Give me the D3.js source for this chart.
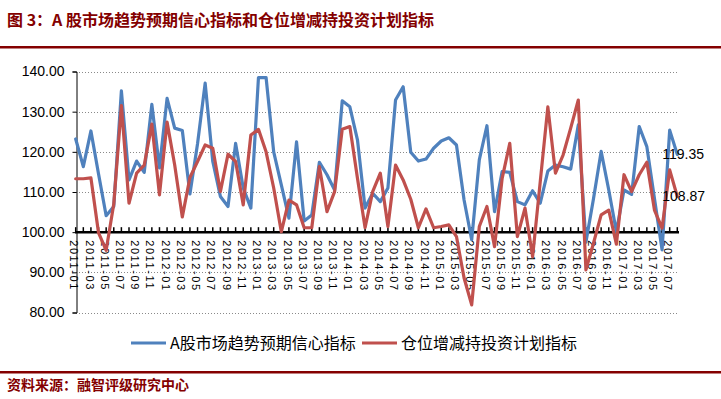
<!DOCTYPE html>
<html>
<head>
<meta charset="utf-8">
<script src="https://cdn.jsdelivr.net/npm/d3@7"></script>
<style>
    body { margin: 0; background: #fff; }
    text { font-family: "Liberation Sans", Arial, sans-serif; }
    .cjk { font-family: "Noto Sans CJK SC", "Liberation Sans", sans-serif; }
</style>
</head>
<body>
<script>
// month labels, 2011-01 .. 2017-08
var months = [];
for (var yr = 2011; yr <= 2017; yr++) {
    for (var m = 1; m <= 12; m++) {
        if (yr == 2017 && m > 8) break;
        months.push(yr + "-" + (m < 10 ? "0" + m : m));
    }
}

// A股市场趋势预期信心指标
var confidence = [123.2, 116.3, 125.2, 114.5, 104.1, 106.4, 135.2, 113.0, 117.7, 114.9,
    131.8, 116.0, 133.3, 125.9, 125.3, 109.5, 122.0, 137.1, 117.6, 108.9,
    106.4, 122.1, 111.0, 106.0, 138.5, 138.5, 120.0, 111.8, 103.5, 122.5,
    102.8, 104.3, 117.4, 114.3, 110.5, 132.7, 131.2, 123.0, 106.0, 109.7,
    107.6, 111.0, 132.9, 136.2, 119.9, 117.7, 118.2, 120.9, 122.7, 123.5,
    121.7, 108.0, 98.1, 118.0, 126.5, 105.1, 115.1, 114.9, 107.6, 106.8,
    110.3, 107.2, 115.2, 116.7, 116.3, 115.7, 126.7, 97.5, 108.4, 120.1,
    110.5, 100.1, 110.5, 109.4, 126.3, 121.3, 108.4, 95.6, 125.4, 119.35];

// 仓位增减持投资计划指标
var position = [113.3, 113.3, 113.5, 99.8, 95.5, 107.0, 131.5, 107.2, 114.7, 116.7,
    126.9, 109.3, 127.4, 116.7, 103.8, 113.6, 117.6, 121.7, 120.9, 110.1,
    119.4, 117.6, 106.8, 124.2, 125.6, 120.0, 111.0, 100.1, 108.0, 106.8,
    101.1, 101.1, 116.3, 105.1, 110.1, 125.6, 126.3, 113.4, 101.1, 110.1,
    114.7, 101.4, 116.7, 113.0, 108.2, 101.1, 105.8, 101.1, 101.4, 101.8,
    98.9, 88.6, 81.9, 101.4, 106.4, 96.4, 113.4, 122.1, 98.9, 106.0,
    93.9, 112.5, 131.2, 114.7, 119.2, 125.9, 132.9, 90.6, 97.3, 104.3,
    105.5, 97.0, 114.3, 110.1, 114.3, 117.4, 105.5, 101.0, 115.5, 108.87];

var yTicks = [80, 90, 100, 110, 120, 130, 140];

var seriesNames = ["A股市场趋势预期信心指标", "仓位增减持投资计划指标"];
var seriesColors = ["#4F81BD", "#C0504D"];

var W = 721, H = 399;
var darkRed = "#840000";

var svg = d3.select("body").append("svg")
    .attr("width", W)
    .attr("height", H);

// header + footer
svg.append("text")
    .attr("class", "cjk")
    .attr("x", 7)
    .attr("y", 26)
    .style("font-size", "16px")
    .style("font-weight", "bold")
    .style("fill", darkRed)
    .text("图 3：A 股市场趋势预期信心指标和仓位增减持投资计划指标");

svg.append("rect").attr("x", 0).attr("y", 46).attr("width", W).attr("height", 2.5).style("fill", darkRed);
svg.append("rect").attr("x", 0).attr("y", 371).attr("width", W).attr("height", 2.5).style("fill", darkRed);

svg.append("text")
    .attr("class", "cjk")
    .attr("x", 7)
    .attr("y", 390)
    .style("font-size", "14px")
    .style("font-weight", "bold")
    .style("fill", darkRed)
    .text("资料来源：融智评级研究中心");

var x = d3.scalePoint()
    .domain(months)
    .range([75.7, 677.3]);

var y = d3.scaleLinear()
    .domain([80, 140])
    .range([312.5, 71.5]);

// dotted grid
svg.append("g").selectAll("line")
    .data(yTicks.filter(function(d) { return d != 100; }))
    .enter().append("line")
    .attr("x1", 76).attr("x2", 678)
    .attr("y1", function(d) { return Math.round(y(d)) + 0.5; })
    .attr("y2", function(d) { return Math.round(y(d)) + 0.5; })
    .attr("stroke", "#8a8a8a")
    .attr("stroke-dasharray", "1,2");

// y axis
var yAxis = d3.axisLeft(y)
    .tickValues(yTicks)
    .tickSize(4)
    .tickPadding(8)
    .tickFormat(d3.format(".2f"));

var gy = svg.append("g")
    .attr("transform", "translate(76.5,0)")
    .call(yAxis);
gy.select(".domain").attr("stroke", "#000");
gy.selectAll(".tick text")
    .style("font-size", "14px")
    .style("fill", "#000")
    .style("font-family", "'Liberation Sans', Arial, sans-serif");

// x axis sits on 100
var gx = svg.append("g")
    .attr("transform", "translate(0," + y(100) + ")");

gx.selectAll("line.tk")
    .data(months)
    .enter().append("line")
    .attr("class", "tk")
    .attr("x1", function(d) { return x(d); })
    .attr("x2", function(d) { return x(d); })
    .attr("y1", 0).attr("y2", -5)
    .attr("stroke", "#000")
    .attr("stroke-width", 1.5);

gx.append("line")
    .attr("x1", 75).attr("x2", 679)
    .attr("y1", 0).attr("y2", 0)
    .attr("stroke", "#000")
    .attr("stroke-width", 2.5);

gx.selectAll("text")
    .data(months.filter(function(d, i) { return i % 2 == 0; }))
    .enter().append("text")
    .attr("transform", function(d) { return "translate(" + (x(d) - 1.5) + ",8) rotate(90)"; })
    .attr("dy", "0.35em")
    .style("font-size", "11px")
    .style("letter-spacing", "1.6px")
    .style("fill", "#000")
    .text(function(d) { return d; });

// lines
var line = d3.line()
    .x(function(d, i) { return x(months[i]); })
    .y(function(d) { return y(d); });

[confidence, position].forEach(function(s, k) {
    svg.append("path")
        .datum(s)
        .attr("d", line)
        .attr("fill", "none")
        .attr("stroke", seriesColors[k])
        .attr("stroke-width", 3.2)
        .attr("stroke-linejoin", "round")
        .attr("stroke-linecap", "round");
});

// end labels
[confidence, position].forEach(function(s) {
    var last = s.length - 1;
    svg.append("text")
        .attr("x", x(months[last]) - 15)
        .attr("y", y(s[last]))
        .attr("dy", "0.35em")
        .style("font-size", "14px")
        .style("fill", "#000")
        .text(d3.format(".2f")(s[last]));
});

// legend
var legend = svg.append("g")
    .attr("transform", "translate(0,343)");

var legendX = [131, 362];
seriesNames.forEach(function(name, k) {
    legend.append("line")
        .attr("x1", legendX[k]).attr("x2", legendX[k] + 35)
        .attr("y1", 0).attr("y2", 0)
        .attr("stroke", seriesColors[k])
        .attr("stroke-width", 3.2);
    legend.append("text")
        .attr("class", "cjk")
        .attr("x", legendX[k] + 39)
        .attr("dy", "0.36em")
        .style("font-size", "16px")
        .style("fill", "#000")
        .text(name);
});
</script>
</body>
</html>
